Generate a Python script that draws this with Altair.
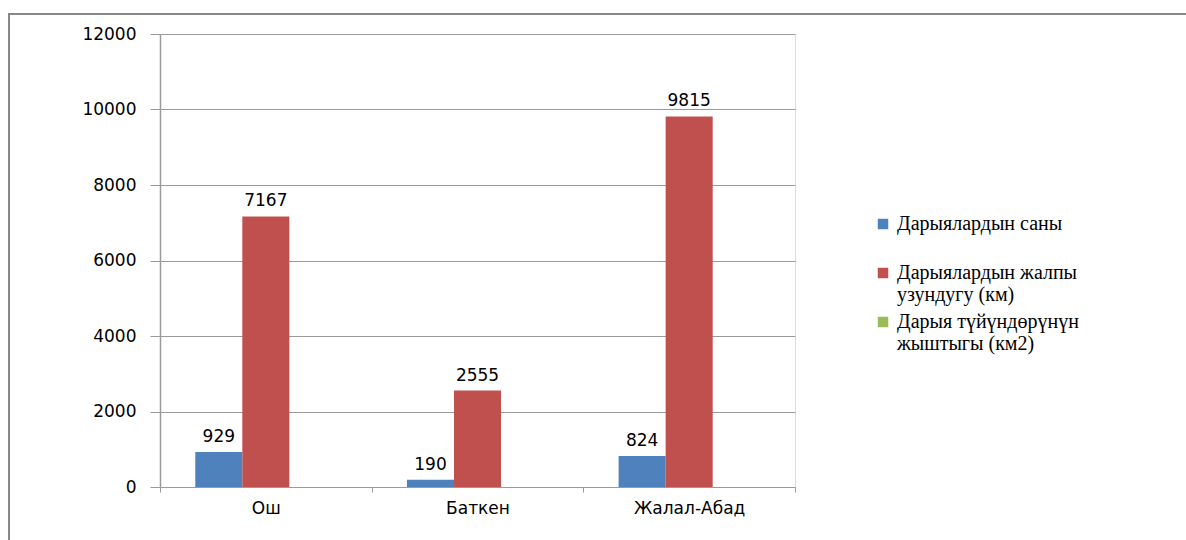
import altair as alt
import pandas as pd

# Regions and river statistics
regions = ["Ош", "Баткен", "Жалал-Абад"]
series_names = [
    "Дарыялардын саны",
    "Дарыялардын жалпы узундугу (км)",
    "Дарыя түйүндөрүнүн жыштыгы (км2)",
]
river_count = [929, 190, 824]
river_length = [7167, 2555, 9815]
network_density = [None, None, None]
series_colors = ["#4F81BD", "#C0504D", "#9BBB59"]
y_ticks = [0, 2000, 4000, 6000, 8000, 10000, 12000]

rows = []
for values, name in zip([river_count, river_length, network_density], series_names):
    for region, v in zip(regions, values):
        rows.append({"region": region, "series": name, "value": v})
df = pd.DataFrame(rows)

AXIS_FONT = "DejaVu Sans"
LEGEND_FONT = "Liberation Serif"
GRAY = "#9a9a9a"

x_enc = alt.X(
    "region:N",
    sort=regions,
    title=None,
    scale=alt.Scale(paddingInner=0, paddingOuter=0),
    axis=alt.Axis(
        labelAngle=0,
        labelFont=AXIS_FONT,
        labelFontSize=17,
        labelColor="#000000",
        labelPadding=8,
        tickBand="extent",
        tickSize=5,
        tickColor=GRAY,
        domainColor=GRAY,
        grid=False,
    ),
)
xoff_enc = alt.XOffset(
    "series:N", sort=series_names, scale=alt.Scale(paddingOuter=0.75, paddingInner=0)
)
y_enc = alt.Y(
    "value:Q",
    title=None,
    scale=alt.Scale(domain=[0, 12000], nice=False),
    axis=alt.Axis(
        values=y_ticks,
        format="d",
        labelFont=AXIS_FONT,
        labelFontSize=17,
        labelColor="#000000",
        labelPadding=14,
        tickSize=10,
        tickColor=GRAY,
        domainColor=GRAY,
        domainWidth=1.5,
        gridColor=GRAY,
        gridWidth=1,
    ),
)

# Long legend labels wrap before their last two words
wrap_expr = (
    "length(split(datum.label, ' ')) > 2 ? "
    "[join(slice(split(datum.label, ' '), 0, -2), ' '), "
    "join(slice(split(datum.label, ' '), -2), ' ')] : datum.label"
)

bars = alt.Chart(df).mark_bar().encode(
    x=x_enc,
    xOffset=xoff_enc,
    y=y_enc,
    color=alt.Color(
        "series:N",
        sort=series_names,
        scale=alt.Scale(domain=series_names, range=series_colors),
        legend=alt.Legend(
            title=None,
            orient="none",
            legendX=713,
            legendY=180,
            symbolType="square",
            symbolSize=110,
            symbolStrokeWidth=0,
            symbolOpacity=1,
            labelFont=LEGEND_FONT,
            labelFontSize=20,
            labelColor="#000000",
            labelLimit=400,
            labelOffset=4,
            rowPadding=7,
            gridAlign="all",
            labelExpr=wrap_expr,
        ),
    ),
)

labels = (
    alt.Chart(df)
    .transform_filter("datum.value != null")
    .mark_text(baseline="bottom", dy=-6, font=AXIS_FONT, fontSize=17, color="#000000")
    .encode(x=x_enc, xOffset=xoff_enc, y=y_enc, text=alt.Text("value:Q", format="d"))
)

# Frame around the chart object
frame_left = alt.Chart(df).mark_rule(color="#888888", strokeWidth=2).encode(
    x=alt.value(-151), y=alt.value(-21), y2=alt.value(520)
)
frame_top = alt.Chart(df).mark_rule(color="#888888", strokeWidth=2).encode(
    x=alt.value(-152), x2=alt.value(1100), y=alt.value(-20)
)

chart = (
    alt.layer(bars, labels, frame_left, frame_top)
    .properties(
        width=635,
        height=453,
        autosize=alt.AutoSizeParams(type="none"),
        padding={"left": 160, "top": 34, "right": 391, "bottom": 53},
    )
    .configure_view(stroke=None)
    .configure(background="#ffffff")
)

chart.save("out.html", embed_options={"renderer": "svg", "actions": False})
